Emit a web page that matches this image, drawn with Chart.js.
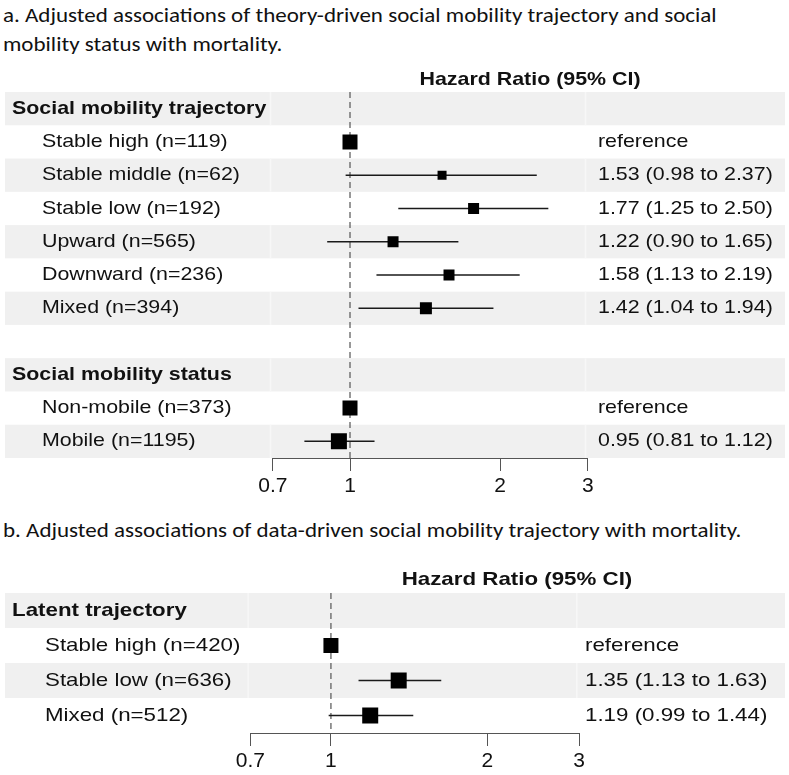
<!DOCTYPE html>
<html>
<head>
<meta charset="utf-8">
<script src="https://cdn.jsdelivr.net/npm/chart.js@4/dist/chart.umd.min.js"></script>
<style>
  body { margin: 0; background: #fff; }
  #page { position: relative; width: 789px; height: 775px; overflow: hidden; }
  .title { position: absolute; left: 3px; font-family: Carlito, Calibri, Lato, sans-serif; font-size: 20px; line-height: 29px; color: #111; white-space: nowrap; transform: scaleX(1.15); transform-origin: left top; }
  canvas { position: absolute; left: 0; }
</style>
</head>
<body>
<div id="page">
  <div class="title" style="top:1px">a. Adjusted associations of theory-driven social mobility trajectory and social<br>mobility status with mortality.</div>
  <canvas id="chartA" width="789" height="500" style="top:0"></canvas>
  <div class="title" style="top:516px">b. Adjusted associations of data-driven social mobility trajectory with mortality.</div>
  <canvas id="chartB" width="789" height="275" style="top:500px"></canvas>
</div>
<script>
// panel a
var rowsA = ['Social mobility trajectory', 'Stable high (n=119)', 'Stable middle (n=62)', 'Stable low (n=192)',
  'Upward (n=565)', 'Downward (n=236)', 'Mixed (n=394)', '', 'Social mobility status',
  'Non-mobile (n=373)', 'Mobile (n=1195)'];
var headersA = [0, 8];
var hrA = [null, 1, 1.53, 1.77, 1.22, 1.58, 1.42, null, null, 1, 0.95];
var lowerA = [null, null, 0.98, 1.25, 0.90, 1.13, 1.04, null, null, null, 0.81];
var upperA = [null, null, 2.37, 2.50, 1.65, 2.19, 1.94, null, null, null, 1.12];
var ciTextA = ['', 'reference', '1.53 (0.98 to 2.37)', '1.77 (1.25 to 2.50)', '1.22 (0.90 to 1.65)',
  '1.58 (1.13 to 2.19)', '1.42 (1.04 to 1.94)', '', '', 'reference', '0.95 (0.81 to 1.12)'];

// panel b
var rowsB = ['Latent trajectory', 'Stable high (n=420)', 'Stable low (n=636)', 'Mixed (n=512)'];
var headersB = [0];
var hrB = [null, 1, 1.35, 1.19];
var lowerB = [null, null, 1.13, 0.99];
var upperB = [null, null, 1.63, 1.44];
var ciTextB = ['', 'reference', '1.35 (1.13 to 1.63)', '1.19 (0.99 to 1.44)'];

var tickValues = [0.7, 1, 2, 3];
var axisTitle = 'Hazard Ratio (95% CI)';

// box widths in px (drawn square side)
var boxA = [0, 15, 9, 11, 11, 11, 12, 0, 0, 15, 16];
var boxB = [0, 15, 16, 16];

var FONT = "'Liberation Sans', Arial, Helvetica, sans-serif";

function stretchText(ctx, text, x, y, font, sx, align) {
  ctx.save();
  ctx.translate(x, y);
  ctx.scale(sx, 1);
  ctx.font = font;
  ctx.fillStyle = '#111';
  ctx.textAlign = align || 'left';
  ctx.textBaseline = 'middle';
  ctx.fillText(text, 0, 0);
  ctx.restore();
}

function forestPlugin(cfg) {
  return {
    id: 'forest',
    beforeDraw: function(chart) {
      var ctx = chart.ctx, ys = chart.scales.y, area = chart.chartArea;
      ctx.save();
      for (var i = 0; i < cfg.rows.length; i += 2) {
        var y0 = ys.getPixelForValue(i - 0.5);
        var y1 = ys.getPixelForValue(i + 0.5);
        ctx.fillStyle = '#f0f0f0';
        ctx.fillRect(5, y0, 780, y1 - y0);
        ctx.fillStyle = '#f7f7f7';
        ctx.fillRect(area.left - 3, y0, 1.5, y1 - y0);
        ctx.fillRect(area.right - 3, y0, 1.5, y1 - y0);
      }
      ctx.restore();
    },
    beforeDatasetsDraw: function(chart) {
      var ctx = chart.ctx, xs = chart.scales.x, ys = chart.scales.y, area = chart.chartArea;
      ctx.save();
      var x1 = xs.getPixelForValue(1);
      ctx.strokeStyle = '#555';
      ctx.lineWidth = 1.2;
      ctx.setLineDash([6, 4]);
      ctx.beginPath();
      ctx.moveTo(x1, area.top);
      ctx.lineTo(x1, area.bottom);
      ctx.stroke();
      ctx.setLineDash([]);
      ctx.strokeStyle = '#1a1a1a';
      ctx.lineWidth = 1.5;
      for (var i = 0; i < cfg.rows.length; i++) {
        if (cfg.lower[i] == null) continue;
        var y = ys.getPixelForValue(i);
        ctx.beginPath();
        ctx.moveTo(xs.getPixelForValue(cfg.lower[i]), y);
        ctx.lineTo(xs.getPixelForValue(cfg.upper[i]), y);
        ctx.stroke();
      }
      ctx.restore();
    },
    afterDraw: function(chart) {
      var ctx = chart.ctx, ys = chart.scales.y;
      for (var i = 0; i < cfg.rows.length; i++) {
        var y = ys.getPixelForValue(i);
        var isHeader = cfg.headers.indexOf(i) >= 0;
        if (isHeader) {
          stretchText(ctx, cfg.rows[i], 12, y, 'bold 18.6px ' + FONT, cfg.sx);
        } else if (cfg.rows[i]) {
          stretchText(ctx, cfg.rows[i], cfg.labelX, y, '18.6px ' + FONT, cfg.sx);
        }
        if (cfg.ciText[i]) {
          stretchText(ctx, cfg.ciText[i], cfg.ciX, y, '18.6px ' + FONT, cfg.sx);
        }
      }
      stretchText(ctx, axisTitle, cfg.titleX, cfg.titleY, 'bold 18.6px ' + FONT, cfg.sx, 'center');
    }
  };
}

function createConfig(rows, hr, box, padding, plugin) {
  var points = [], radii = [];
  hr.forEach(function(v, i) {
    if (v == null) return;
    points.push({ x: v, y: i });
    radii.push(box[i] / Math.SQRT2);
  });
  return {
    type: 'scatter',
    data: {
      datasets: [{
        data: points,
        pointStyle: 'rect',
        pointRadius: radii,
        pointHoverRadius: radii,
        backgroundColor: '#000',
        borderWidth: 0
      }]
    },
    options: {
      responsive: false,
      animation: false,
      layout: { padding: padding },
      plugins: { legend: { display: false }, tooltip: { enabled: false } },
      scales: {
        x: {
          type: 'logarithmic',
          min: 0.7,
          max: 3,
          afterBuildTicks: function(scale) {
            scale.ticks = tickValues.map(function(v) { return { value: v }; });
          },
          afterFit: function(scale) { scale.height = 36; },
          ticks: {
            autoSkip: false,
            maxRotation: 0,
            padding: 3,
            color: '#111',
            font: { family: FONT, size: 21 },
            callback: function(v) { return String(v); }
          },
          grid: { drawOnChartArea: false, drawTicks: true, tickLength: 13, color: '#555', lineWidth: 1 },
          border: { display: true, color: '#555', width: 1 }
        },
        y: {
          type: 'linear',
          reverse: true,
          min: -0.5,
          max: rows.length - 0.5,
          display: false
        }
      }
    },
    plugins: [plugin]
  };
}

window.onload = function() {
  var pluginA = forestPlugin({
    rows: rowsA, headers: headersA, lower: lowerA, upper: upperA, ciText: ciTextA,
    sx: 1.15, labelX: 42, ciX: 598, titleX: 530, titleY: 80
  });
  new Chart(document.getElementById('chartA').getContext('2d'),
    createConfig(rowsA, hrA, boxA, { left: 272.8, right: 201.2, top: 92, bottom: 6 }, pluginA));

  var pluginB = forestPlugin({
    rows: rowsB, headers: headersB, lower: lowerB, upper: upperB, ciText: ciTextB,
    sx: 1.2, labelX: 45, ciX: 585, titleX: 517, titleY: 80
  });
  new Chart(document.getElementById('chartB').getContext('2d'),
    createConfig(rowsB, hrB, boxB, { left: 250.4, right: 210, top: 93, bottom: 6 }, pluginB));
};
</script>
</body>
</html>
